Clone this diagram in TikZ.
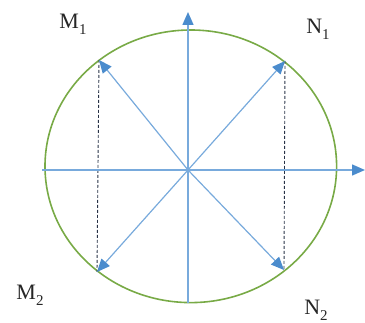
\documentclass[tikz,border=0pt]{standalone}
\usepackage{fontspec}
\setmainfont{Liberation Serif}
\usetikzlibrary{arrows.meta}
\definecolor{axblue}{RGB}{120,170,220}
\definecolor{tipblue}{RGB}{75,140,205}
\definecolor{ringgreen}{RGB}{120,170,70}
\definecolor{dashgray}{RGB}{40,50,70}
\newcommand{\lowsub}[1]{\raisebox{-0.28em}{\fontsize{15}{15}\selectfont #1}}
\tikzset{
  axis/.style={draw=axblue, line width=1.5pt, -{Triangle[length=13pt,width=11pt,color=tipblue]}},
  vec/.style={draw=axblue, line width=1.2pt, -{Triangle[length=13pt,width=11pt,color=tipblue]}},
  proj/.style={draw=dashgray, line width=0.9pt, dash pattern=on 3pt off 2pt},
  lbl/.style={font=\fontsize{22}{23}\selectfont, text=black!85, inner sep=0pt},
}
\begin{document}
\begin{tikzpicture}[x=1pt,y=-1pt]
\useasboundingbox (0,0) rectangle (365,323);
\coordinate (O) at (188,170);
\coordinate (L) at (42,170);
\coordinate (R) at (365,170);
\coordinate (B) at (188,303);
\coordinate (T) at (188,12);
\coordinate (M1) at (99,60);
\coordinate (N1) at (285,61);
\coordinate (M2) at (97,272);
\coordinate (N2) at (284,270);
\draw[ringgreen, line width=1.6pt] (190.8,166.3) ellipse [x radius=145.8, y radius=136.3];
\draw[proj] (M1) -- (M2);
\draw[proj] (N1) -- (N2);
\draw[axis] (L) -- (R);
\draw[axis] (B) -- (T);
\draw[vec] (O) -- (M1);
\draw[vec] (O) -- (N1);
\draw[vec] (O) -- (M2);
\draw[vec] (O) -- (N2);
\node[lbl] (lM1) at (73,24) {M\lowsub{1}};
\node[lbl] (lN1) at (318,29) {N\lowsub{1}};
\node[lbl] (lM2) at (30,295) {M\lowsub{2}};
\node[lbl] (lN2) at (316,310) {N\lowsub{2}};
\end{tikzpicture}
\end{document}
